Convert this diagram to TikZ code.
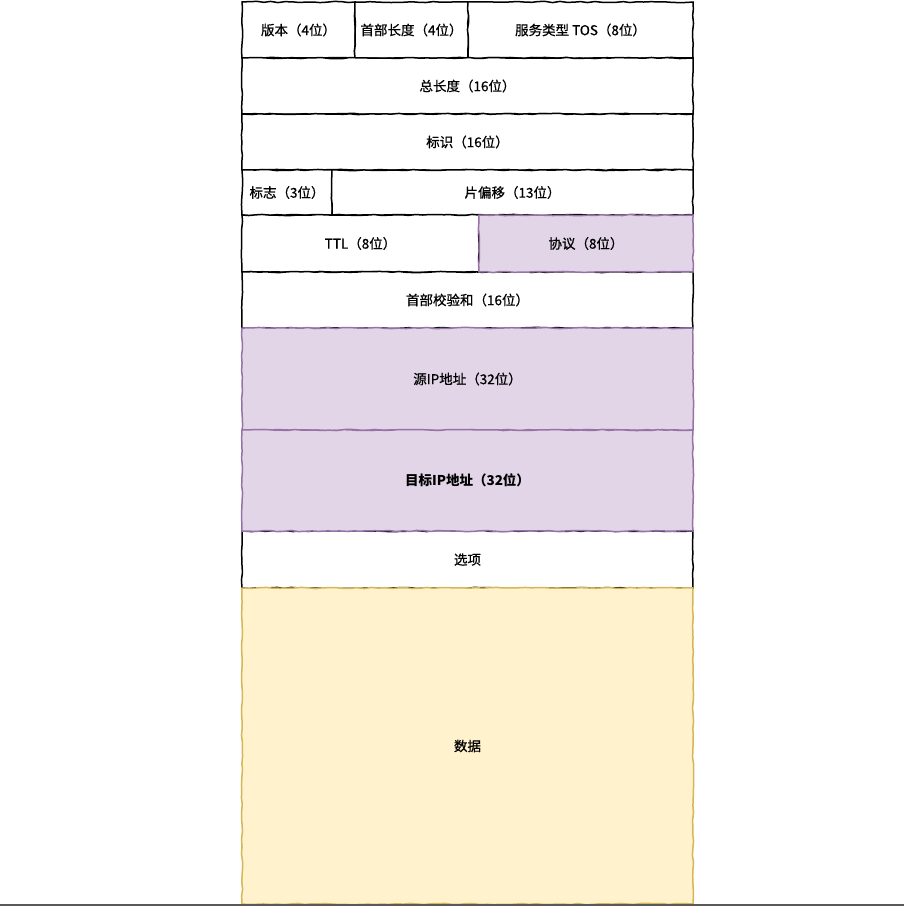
\documentclass[tikz,border=0pt]{standalone}
\usepackage{fontspec}
\newfontfamily\cjk[FakeBold=0.7]{Noto Sans CJK SC}
\newfontfamily\cjkB{Noto Sans CJK SC}
\usetikzlibrary{decorations.pathmorphing}
\definecolor{purpfill}{HTML}{E1D5E7}
\definecolor{purpline}{HTML}{9673A6}
\definecolor{yelfill}{HTML}{FFF2CC}
\definecolor{yelline}{HTML}{D6B656}
\tikzset{
  field/.style={draw=black, fill=white, line width=1.5pt, rectangle, inner sep=0pt,
    font=\cjk\fontsize{13.5pt}{15pt}\selectfont,
    decorate, decoration={random steps, segment length=7pt, amplitude=0.6pt}},
  purp/.style={field, draw=purpline, fill=purpfill},
  yel/.style={field, draw=yelline, fill=yelfill},
}
\begin{document}
\begin{tikzpicture}[x=1pt,y=-1pt]
\pgfmathsetseed{7}
\useasboundingbox (0,0) rectangle (904,906);
\fill[white] (0,0) rectangle (904,906);
% row 1
\node[field, minimum width=113pt, minimum height=56pt] (ver) at (298.5,30) {版本（4位）};
\node[field, minimum width=113pt, minimum height=56pt] (hl) at (411.5,30) {首部长度（4位）};
\node[field, minimum width=225pt, minimum height=56pt] (tos) at (580.5,30) {服务类型 TOS（8位）};
% row 2
\node[field, minimum width=451pt, minimum height=56pt] (tl) at (467.5,86) {总长度（16位）};
% row 3
\node[field, minimum width=451pt, minimum height=56pt] (ident) at (467.5,142) {标识（16位）};
% row 4
\node[field, minimum width=90pt, minimum height=45pt] (flag) at (287,192.5) {标志（3位）};
\node[field, minimum width=361pt, minimum height=45pt] (off) at (512.5,192.5) {片偏移（13位）};
% row 5
\node[field, minimum width=237pt, minimum height=57pt] (ttl) at (360.5,243.5) {TTL（8位）};
% row 6
\node[field, minimum width=451pt, minimum height=56pt] (cks) at (467.5,300) {首部校验和（16位）};
% row 9
\node[field, minimum width=451pt, minimum height=57pt] (opt) at (467.5,559.5) {选项};
% coloured
\node[purp, minimum width=214pt, minimum height=57pt] (proto) at (586,243.5) {协议（8位）};
\node[purp, minimum width=451pt, minimum height=102pt] (src) at (467.5,379) {源IP地址（32位）};
\node[purp, minimum width=451pt, minimum height=101pt] (dst) at (467.5,480.5) {\cjkB\bfseries 目标IP地址（32位）};
\node[yel, minimum width=451pt, minimum height=316pt] (data) at (467.5,746) {数据};
% bottom rule
\coordinate (bl) at (0,905);
\coordinate (br) at (904,905);
\draw[line width=1.2pt, color=black!65] (bl) -- (br);
\end{tikzpicture}
\end{document}
